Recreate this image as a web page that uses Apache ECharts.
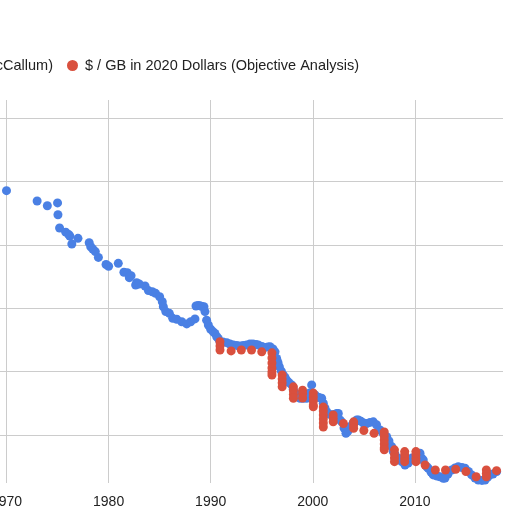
<!DOCTYPE html>
<html>
<head>
<meta charset="utf-8">
<script src="https://cdn.jsdelivr.net/npm/echarts@6/dist/echarts.min.js"></script>
<style>
html,body{margin:0;padding:0;background:#fff;}
#c{width:520px;height:520px;}
</style>
</head>
<body>
<div id="c"></div>
<script>
// Series names
const seriesNames = ['$ / GB in 2020 Dollars (McCallum)', '$ / GB in 2020 Dollars (Objective Analysis)'];

// McCallum: [year, $/GB in 2020 dollars]
const mcCallum = [
  [1970.0,5.1e7],[1973.0,2.4e7],[1974.0,1.7e7],[1975.0,2.1e7],[1975.04,8.9e6],[1975.2,3.4e6],
  [1975.8,2.5e6],[1976.1,2.1e6],[1976.2,1.9e6],[1976.4,1.06e6],[1977.0,1.6e6],[1978.1,1.16e6],
  [1978.25,8.7e5],[1978.45,7.4e5],[1978.7,6.1e5],[1979.0,4.0e5],[1979.75,2.4e5],[1980.0,2.1e5],
  [1980.95,2.6e5],[1981.5,1.36e5],[1981.83,1.32e5],[1982.03,9.2e4],[1982.2,1.06e5],[1982.65,5.4e4],
  [1982.75,6.4e4],[1983.0,5.8e4],[1983.57,5.0e4],[1983.9,3.6e4],[1984.28,3.3e4],[1984.6,2.95e4],
  [1985.0,2.3e4],[1985.26,1.6e4],[1985.36,1.11e4],[1985.6,7.8e3],[1985.95,6.9e3],[1986.28,4.8e3],
  [1986.67,4.5e3],[1987.16,3.75e3],[1987.65,3.2e3],[1988.04,3.75e3],[1988.46,4.6e3],[1988.56,1.17e4],
  [1988.76,1.22e4],[1988.95,1.2e4],[1989.15,1.13e4],[1989.34,1.11e4],[1989.44,7.8e3],[1989.6,4.2e3],
  [1989.77,2.95e3],[1990.0,2.16e3],[1990.25,1.8e3],[1990.42,1.6e3],[1990.59,1.26e3],[1990.74,1.12e3],
  [1990.91,880],[1991.2,860],[1991.57,820],[1991.89,740],[1992.21,690],[1992.55,670],
  [1992.87,640],[1993.19,670],[1993.53,690],[1993.85,740],[1994.14,740],[1994.44,720],
  [1994.66,690],[1995.02,620],[1995.32,580],[1995.61,600],[1995.81,610],[1996.1,520],
  [1996.3,420],[1996.46,260],[1996.59,194],[1996.72,143],[1996.92,104],[1997.11,78],
  [1997.28,65],[1997.44,54],[1997.67,45],[1997.93,38],[1998.09,28],[1998.26,21],
  [1998.5,17],[1998.75,14.4],[1999.07,14.4],[1999.4,14.4],[1999.68,21],[1999.89,38],
  [2000.22,18.3],[2000.38,16.2],[2000.61,15.2],[2000.87,14.4],[2001.03,10],[2001.19,7.1],
  [2001.36,5.4],[2001.59,4.6],[2001.85,4.3],[2002.08,4.4],[2002.34,4.8],[2002.5,4.8],
  [2002.66,3.0],[2002.83,2.6],[2003.06,1.66],[2003.25,1.13],[2003.45,1.34],[2003.64,1.83],
  [2003.94,2.3],[2004.3,3.0],[2004.46,3.0],[2004.72,2.7],[2004.97,2.4],[2005.28,2.3],
  [2005.6,2.5],[2005.93,2.6],[2006.24,2.1],[2006.58,1.44],[2006.88,1.16],[2007.24,0.88],
  [2007.46,0.65],[2007.73,0.43],[2007.88,0.30],[2008.05,0.25],[2008.37,0.184],[2008.71,0.144],
  [2009.03,0.113],[2009.35,0.131],[2009.72,0.188],[2010.18,0.265],[2010.5,0.265],[2010.67,0.184],
  [2010.82,0.163],[2011.16,0.100],[2011.31,0.089],[2011.58,0.068],[2011.8,0.055],[2012.17,0.051],
  [2012.46,0.048],[2012.78,0.043],[2012.95,0.044],[2013.24,0.059],[2013.6,0.079],[2013.93,0.091],
  [2014.25,0.100],[2014.61,0.094],[2014.91,0.089],[2015.25,0.071],[2015.56,0.055],[2015.89,0.044],
  [2016.21,0.038],[2016.57,0.037],[2016.87,0.038],[2017.11,0.046],[2017.36,0.055],[2017.65,0.059],
  [2018.01,0.070]
];

// Objective Analysis: [year, $/GB in 2020 dollars]
const objectiveAnalysis = [
  [1990.91,880],[1990.91,640],[1990.91,480],[1992.0,450],[1993.0,480],[1994.0,480],[1995.0,420],
  [1996.0,390],[1996.0,270],[1996.0,187],[1996.0,130],[1996.0,97],[1996.0,78],
  [1997.0,78],[1997.0,58],[1997.0,44],[1997.0,33],
  [1998.1,33],[1998.1,25],[1998.1,19],[1998.1,14.4],
  [1999.0,26],[1999.0,20],[1999.0,14.7],
  [2000.05,21],[2000.05,15.8],[2000.05,11.8],[2000.05,8.8],[2000.05,7.8],
  [2001.03,7.6],[2001.03,5.7],[2001.03,4.3],[2001.03,3.2],[2001.03,2.4],[2001.03,1.79],
  [2002.0,4.3],[2002.0,3.3],[2002.0,2.6],
  [2003.0,2.3],
  [2004.0,2.6],[2004.0,2.1],[2004.0,1.63],
  [2005.0,1.39],[2006.0,1.13],
  [2007.0,1.24],[2007.0,0.93],[2007.0,0.70],[2007.0,0.52],[2007.0,0.39],[2007.0,0.34],
  [2008.0,0.34],[2008.0,0.25],[2008.0,0.188],[2008.0,0.144],
  [2009.0,0.30],[2009.0,0.234],[2009.0,0.18],[2009.0,0.144],
  [2010.1,0.30],[2010.1,0.234],[2010.1,0.18],[2010.1,0.144],
  [2011.0,0.113],[2012.0,0.079],[2013.0,0.079],[2014.0,0.083],[2015.0,0.070],[2016.0,0.048],
  [2017.0,0.079],[2017.0,0.061],[2017.0,0.048],[2018.0,0.075]
];

// Axis settings
const xMin = 1960, xMax = 2018.63, xStep = 10;
const yMin = 0.0306, yMax = 3.7e10;
const xGridYears = [1970, 1980, 1990, 2000, 2010];
const yGridValues = [1, 100, 1e4, 1e6, 1e8, 1e10];

const FONT = 'Arial, "Liberation Sans", Helvetica, sans-serif';
const BLUE = '#4a80e4';
const RED = '#d9503e';

const chart = echarts.init(document.getElementById('c'), null, {renderer: 'canvas'});

const gridLines = xGridYears.map(v => ({xAxis: v})).concat(yGridValues.map(v => ({yAxis: v})));

chart.setOption({
  animation: false,
  backgroundColor: '#ffffff',
  textStyle: {fontFamily: FONT},
  legend: [
    {
      data: [seriesNames[0]],
      right: 462, top: 53,
      icon: 'circle', itemWidth: 11, itemHeight: 11,
      textStyle: {fontSize: 14.5, color: '#222', fontFamily: FONT, padding: [0, 0, 0, 2]}
    },
    {
      data: [seriesNames[1]],
      left: 62, top: 53,
      icon: 'circle', itemWidth: 11, itemHeight: 11,
      textStyle: {fontSize: 14.5, color: '#222', fontFamily: FONT, padding: [0, 0, 0, 2]}
    }
  ],
  grid: {left: -95.6, right: 17, top: 100, bottom: 37, containLabel: false, outerBoundsMode: 'none'},
  xAxis: {
    type: 'value', min: xMin, max: xMax, interval: xStep,
    axisLine: {show: false}, axisTick: {show: false}, splitLine: {show: false},
    axisLabel: {
      showMaxLabel: false, fontSize: 14, color: '#222', margin: 12, fontFamily: FONT,
      formatter: v => (v % 10 === 0 ? String(v) : '')
    }
  },
  yAxis: {
    type: 'log', logBase: 10, min: yMin, max: yMax,
    axisLine: {show: false}, axisTick: {show: false}, splitLine: {show: false},
    axisLabel: {show: false}
  },
  series: [
    {
      name: '_grid', type: 'scatter', data: [], silent: true, z: 0,
      markLine: {
        silent: true, z: 0, animation: false,
        symbol: ['none', 'none'],
        label: {show: false},
        lineStyle: {color: '#cccccc', width: 1, type: 'solid'},
        emphasis: {disabled: true},
        data: gridLines
      }
    },
    {
      name: seriesNames[0], type: 'scatter', data: mcCallum,
      symbol: 'circle', symbolSize: 9, z: 2,
      itemStyle: {color: BLUE, opacity: 1}
    },
    {
      name: seriesNames[1], type: 'scatter', data: objectiveAnalysis,
      symbol: 'circle', symbolSize: 9, z: 3,
      itemStyle: {color: RED, opacity: 1}
    }
  ]
});
</script>
</body>
</html>
